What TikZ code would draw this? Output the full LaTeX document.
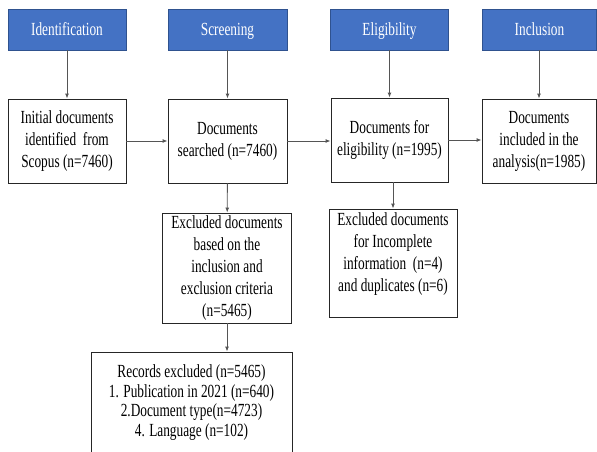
\documentclass[tikz,border=0pt]{standalone}
\usepackage{fontspec}
\setmainfont[FakeStretch=0.72]{Liberation Serif}
\usetikzlibrary{arrows.meta}
\definecolor{hdrblue}{RGB}{68,114,196}
\definecolor{hdredge}{RGB}{47,82,143}
\definecolor{arrgray}{RGB}{85,85,85}

\begin{document}
\begin{tikzpicture}[x=1pt, y=-1pt,
  every node/.style={font=\fontsize{18.5}{22}\selectfont, align=center, inner sep=0pt},
  hdr/.style={fill=hdrblue, draw=hdredge, line width=0.8pt, text=white,
    minimum height=41pt, text height=15pt, text depth=2pt},
  box/.style={draw=black!85, line width=0.9pt, fill=white},
  flow/.style={draw=arrgray, line width=0.9pt, -{Latex[length=5pt,width=4pt]}}]
  \useasboundingbox (0,0) rectangle (597,452);
  % stage headers
  \node[hdr, minimum width=118pt] (idhdr) at (67,29.5) {Identification};
  \node[hdr, minimum width=119pt] (scrhdr) at (227.5,29.5) {Screening};
  \node[hdr, minimum width=118pt] (elghdr) at (389.5,29.5) {Eligibility};
  \node[hdr, minimum width=114pt] (inchdr) at (539.5,29.5) {Inclusion};
  % main row
  \node[box, minimum width=118pt, minimum height=84pt] (init) at (67,141)
    {Initial documents\\identified\ \ from\\Scopus (n=7460)};
  \node[box, minimum width=119pt, minimum height=84pt] (search) at (227.5,141)
    {Documents\\searched (n=7460)};
  \node[box, minimum width=117pt, minimum height=84pt] (elig) at (389.5,140)
    {Documents for\\eligibility (n=1995)};
  \node[box, minimum width=114pt, minimum height=84pt] (incl) at (539,141)
    {Documents\\included in the\\analysis(n=1985)};
  % exclusions
  \node[box, minimum width=129pt, minimum height=110pt] (excl1) at (227,268)
    {Excluded documents\\based on the\\inclusion and\\exclusion criteria\\(n=5465)};
  \node[box, minimum width=128pt, minimum height=108pt] (excl2) at (393,263) {};
  \node[anchor=north] (excl2txt) at (393,212)
    {Excluded documents\\for Incomplete\\information\ \ (n=4)\\and duplicates (n=6)};
  \node[box, minimum width=201pt, minimum height=120pt] (recs) at (191.5,412) {};
  \node[anchor=north, font=\fontsize{18.5}{19.5}\selectfont] (recstxt) at (191.5,364.5)
    {Records excluded (n=5465)\\1. Publication in 2021 (n=640)\\2.Document type(n=4723)\\4. Language (n=102)};
  % connectors
  \draw[flow] (idhdr) -- (init);
  \draw[flow] (scrhdr) -- (search);
  \draw[flow] (elghdr) -- (elig);
  \draw[flow] (inchdr.south -| incl.north) -- (incl.north);
  \draw[flow] (init) -- (search);
  \draw[flow] (search.east) -- (search.east -| elig.west);
  \draw[flow] (elig) -- (elig -| incl.west);
  \draw[flow] (search) -- (excl1);
  \draw[flow] (elig.south -| excl2.north) -- (excl2.north);
  \draw[flow] (excl1.south) -- (excl1.south |- recs.north);
\end{tikzpicture}
\end{document}
